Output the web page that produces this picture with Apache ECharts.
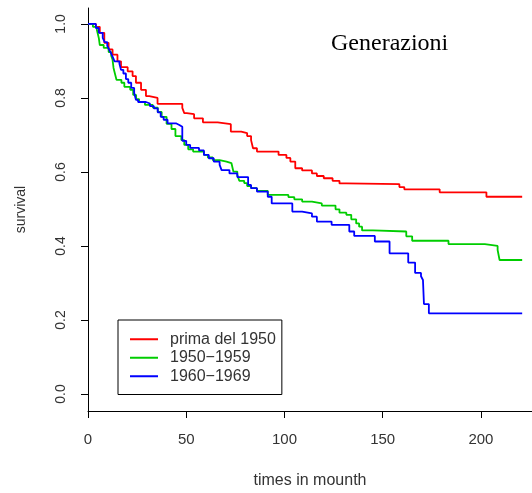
<!DOCTYPE html>
<html>
<head>
<meta charset="utf-8">
<script src="https://cdn.jsdelivr.net/npm/echarts@6/dist/echarts.min.js"></script>
<style>
html,body{margin:0;padding:0;background:#fff;}
#chart{width:532px;height:493px;}
</style>
</head>
<body>
<div id="chart"></div>
<script>
const seriesNames = ['prima del 1950', '1950\u22121959', '1960\u22121969'];
const xTicks = [0, 50, 100, 150, 200];
const yTicks = [0, 0.2, 0.4, 0.6, 0.8, 1.0];

const redTime = [0,4,6,8.3,10.5,12.5,15,16.8,20.2,22.7,24.4,27,29.5,31.2,35.4,48,49,50.3,54,58.5,66,72.7,78,81,83,84,86,97,101,103,105.5,109,114,116.5,120,124.5,128,131.5,158.5,161,179,202.8,221];
const redSurv = [1.0,0.992,0.976,0.949,0.931,0.917,0.899,0.883,0.872,0.859,0.841,0.822,0.805,0.8,0.784,0.773,0.759,0.756,0.745,0.734,0.729,0.709,0.705,0.697,0.686,0.664,0.655,0.646,0.638,0.628,0.61,0.604,0.596,0.589,0.583,0.576,0.569,0.567,0.559,0.553,0.545,0.533,0.533];

const greenTime = [0,2.5,4.5,5.5,6,8,10.5,11.8,12.5,13,13.5,14.5,17,18.5,21.5,23,24.5,26,29,33,35.5,37.5,40,42.5,44.5,47.5,49,51,53.5,59,61,63.5,67,70.5,73,74,76,77,79.5,81,83,86,91.5,102,105,109,114,119,126,128,131.5,134,136.5,138,139.5,145,162,165,183.5,202,208.5,209.5,221];
const greenSurv = [1,0.992,0.984,0.962,0.943,0.935,0.924,0.914,0.903,0.881,0.870,0.849,0.841,0.830,0.822,0.808,0.797,0.789,0.781,0.774,0.762,0.749,0.730,0.716,0.697,0.686,0.673,0.661,0.655,0.646,0.639,0.632,0.628,0.624,0.619,0.601,0.592,0.576,0.570,0.562,0.556,0.549,0.538,0.532,0.526,0.520,0.515,0.509,0.499,0.490,0.484,0.472,0.461,0.452,0.442,0.439,0.426,0.414,0.405,0.400,0.389,0.362,0.362];

const blueTime = [0,4,5.5,7.5,8.5,9.8,10.8,11.8,12.8,13.5,16,16.8,18,19.3,20.5,22,23.5,24.4,25.5,29.5,31.5,33.5,35.5,37,38.5,40.5,45,46.5,48,50,52,56.5,59,61.5,64,67,68,72,76,81.5,83,86,91.5,93.5,104,109,114,116.5,124,133,135.5,146,153.5,163,166.5,169.5,170.5,171,173.5,221];
const blueSurv = [1,0.989,0.976,0.962,0.951,0.941,0.930,0.920,0.908,0.899,0.892,0.876,0.866,0.851,0.841,0.827,0.814,0.795,0.789,0.785,0.778,0.772,0.761,0.749,0.741,0.731,0.727,0.722,0.684,0.673,0.665,0.658,0.646,0.637,0.628,0.619,0.605,0.596,0.586,0.565,0.556,0.547,0.533,0.515,0.493,0.488,0.479,0.466,0.457,0.439,0.427,0.412,0.380,0.355,0.327,0.318,0.308,0.243,0.218,0.218];

const colors = ['#ff0000', '#00cd00', '#0000ff'];

function zip(t, s) { return t.map((v, i) => [v, s[i]]); }
const allData = [zip(redTime, redSurv), zip(greenTime, greenSurv), zip(blueTime, blueSurv)];

const chart = echarts.init(document.getElementById('chart'), null, {renderer: 'canvas'});
const font = "'Liberation Sans', Arial, sans-serif";

chart.setOption({
  animation: false,
  backgroundColor: '#fff',
  grid: {left: 88, right: 0, top: 8, bottom: 82, outerBoundsMode: 'none'},
  xAxis: {
    type: 'value', min: 0, max: 226,
    name: 'times in mounth', nameLocation: 'middle', nameGap: 62,
    nameTextStyle: {fontFamily: font, fontSize: 16, color: '#333'},
    axisLine: {show: true, onZero: false, lineStyle: {color: '#000', width: 1}},
    axisTick: {show: true, length: 7, inside: false, customValues: xTicks, lineStyle: {color: '#000'}},
    axisLabel: {customValues: xTicks, margin: 21, fontFamily: font, fontSize: 15, color: '#333'},
    splitLine: {show: false}
  },
  yAxis: {
    type: 'value', min: -0.046, max: 1.043,
    name: 'survival', nameLocation: 'middle', nameGap: 60, nameRotate: 90,
    nameTextStyle: {fontFamily: font, fontSize: 14, color: '#333'},
    axisLine: {show: true, onZero: false, lineStyle: {color: '#000', width: 1}},
    axisTick: {show: true, length: 7, inside: false, customValues: yTicks, lineStyle: {color: '#000'}},
    axisLabel: {customValues: yTicks, rotate: 90, margin: 20, fontFamily: font, fontSize: 14, color: '#333',
      formatter: v => v.toFixed(1)},
    splitLine: {show: false}
  },
  legend: {
    show: true, orient: 'vertical', left: 118, top: 320,
    data: seriesNames,
    icon: 'rect', itemWidth: 28, itemHeight: 2, itemGap: 0,
    padding: [10, 6, 9, 12],
    borderColor: '#000', borderWidth: 1, borderRadius: 0,
    textStyle: {fontFamily: font, fontSize: 16, color: '#333', lineHeight: 18.5, padding: [0, 0, 0, 7]},
    selectedMode: false
  },
  graphic: [{
    type: 'text', left: 331, top: 32,
    style: {text: 'Generazioni', font: "24px 'Liberation Serif', 'Times New Roman', serif", fill: '#000'}
  }],
  series: seriesNames.map((n, i) => ({
    name: n, type: 'line', step: 'end', symbol: 'none',
    data: allData[i],
    lineStyle: {color: colors[i], width: 1.8},
    itemStyle: {color: colors[i]},
    emphasis: {disabled: true}
  }))
});
</script>
</body>
</html>
